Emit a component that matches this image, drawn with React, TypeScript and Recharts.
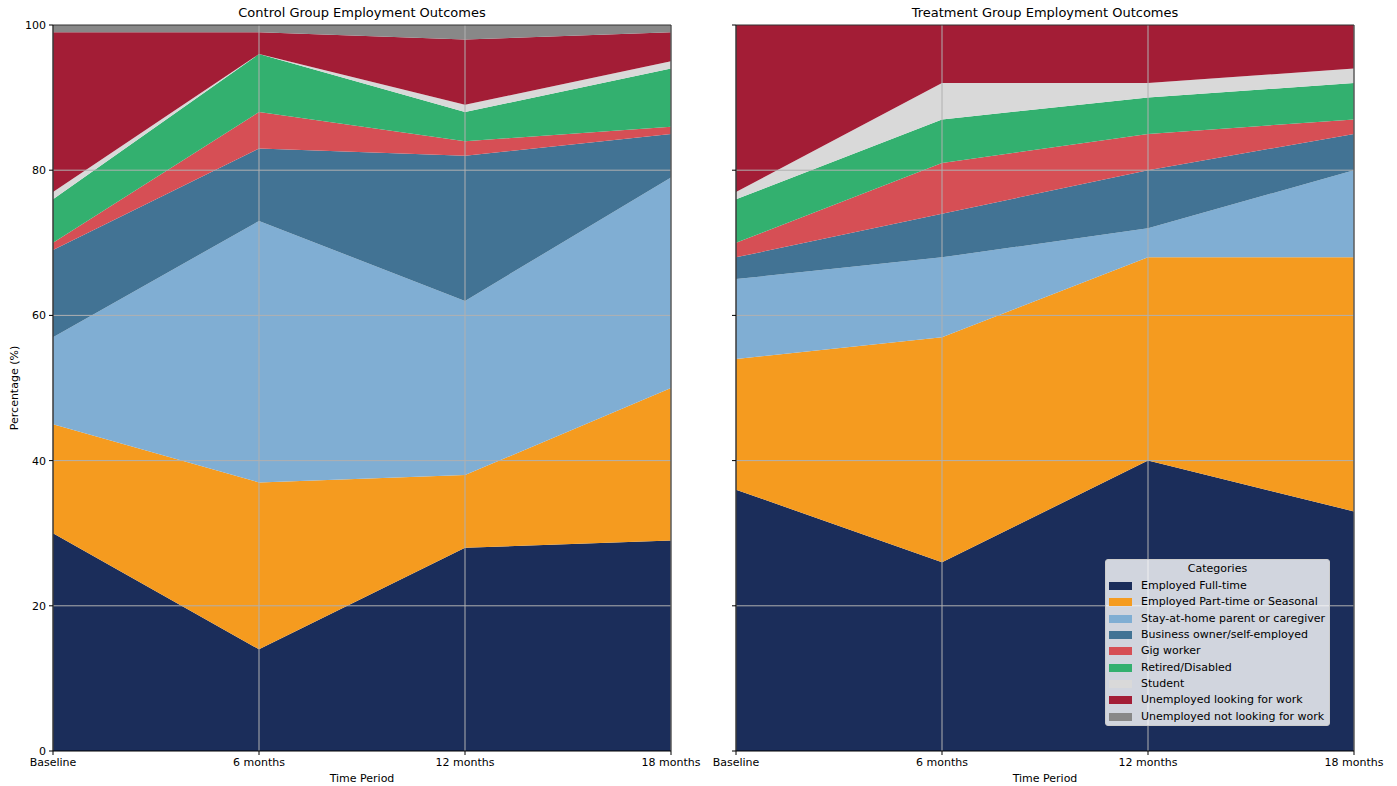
import { AreaChart, Area, XAxis, YAxis, ReferenceLine } from "recharts";

const periods = ["Baseline", "6 months", "12 months", "18 months"];
const yTicks = [0, 20, 40, 60, 80, 100];

// control group, % per period
const controlFullTime = [30, 14, 28, 29];
const controlPartTime = [15, 23, 10, 21];
const controlStayHome = [12, 36, 24, 29];
const controlBusiness = [12, 10, 20, 6];
const controlGig = [1, 5, 2, 1];
const controlRetired = [6, 8, 4, 8];
const controlStudent = [1, 0, 1, 1];
const controlUnempLooking = [22, 3, 9, 4];
const controlUnempNot = [1, 1, 2, 1];

// treatment group, % per period
const treatFullTime = [36, 26, 40, 33];
const treatPartTime = [18, 31, 28, 35];
const treatStayHome = [11, 11, 4, 12];
const treatBusiness = [3, 6, 8, 5];
const treatGig = [2, 7, 5, 2];
const treatRetired = [6, 6, 5, 5];
const treatStudent = [1, 5, 2, 2];
const treatUnempLooking = [23, 8, 8, 6];
const treatUnempNot = [0, 0, 0, 0];

const series = [
  { key: "fullTime", name: "Employed Full-time", color: "#1b2d5a" },
  { key: "partTime", name: "Employed Part-time or Seasonal", color: "#f59b1f" },
  { key: "stayHome", name: "Stay-at-home parent or caregiver", color: "#80aed3" },
  { key: "business", name: "Business owner/self-employed", color: "#427394" },
  { key: "gig", name: "Gig worker", color: "#d64f55" },
  { key: "retired", name: "Retired/Disabled", color: "#33b06f" },
  { key: "student", name: "Student", color: "#d9d9d9" },
  { key: "unempLooking", name: "Unemployed looking for work", color: "#a31d36" },
  { key: "unempNot", name: "Unemployed not looking for work", color: "#888888" },
];

function buildRows(cols: number[][]) {
  return periods.map((p, i) => {
    const row: Record<string, string | number> = { period: p };
    series.forEach((s, j) => {
      row[s.key] = cols[j][i];
    });
    return row;
  });
}

const controlData = buildRows([
  controlFullTime, controlPartTime, controlStayHome, controlBusiness, controlGig,
  controlRetired, controlStudent, controlUnempLooking, controlUnempNot,
]);
const treatData = buildRows([
  treatFullTime, treatPartTime, treatStayHome, treatBusiness, treatGig,
  treatRetired, treatStudent, treatUnempLooking, treatUnempNot,
]);

const font = "'DejaVu Sans', sans-serif";
const tickStyle = { fontSize: 11, fill: "#000", fontFamily: font };

function Panel({ data, showYLabels, width, right }: { data: any[]; showYLabels: boolean; width: number; right: number }) {
  return (
    <AreaChart width={width} height={786} data={data} margin={{ top: 25, right, bottom: 0, left: 13 }}>
      <XAxis
        dataKey="period"
        height={35}
        tick={tickStyle}
        tickSize={4}
        tickMargin={3}
        stroke="#000"
        interval={0}
      />
      <YAxis
        type="number"
        domain={[0, 100]}
        ticks={yTicks}
        width={40}
        tick={tickStyle}
        tickSize={4}
        tickMargin={3}
        stroke="#000"
        tickFormatter={(v) => (showYLabels ? String(v) : "")}
        allowDataOverflow
      />
      {series.map((s) => (
        <Area
          key={s.key}
          type="linear"
          dataKey={s.key}
          stackId="1"
          fill={s.color}
          fillOpacity={1}
          stroke="none"
          isAnimationActive={false}
        />
      ))}
      {periods.map((p) => (
        <ReferenceLine key={p} x={p} stroke="#b0b0b0" strokeWidth={1} />
      ))}
      {[20, 40, 60, 80].map((v) => (
        <ReferenceLine key={v} y={v} stroke="#b0b0b0" strokeWidth={1} />
      ))}
      <ReferenceLine y={100} stroke="#333" strokeWidth={1} />
      <ReferenceLine x="18 months" stroke="#333" strokeWidth={1} />
    </AreaChart>
  );
}

export default function App() {
  return (
    <div style={{ position: "absolute", left: 0, top: 0, width: 1397, height: 786, background: "#fff", fontFamily: font }}>
      <div style={{ position: "absolute", left: 0, top: 0 }}>
        <Panel data={controlData} showYLabels width={710} right={39} />
      </div>
      <div style={{ position: "absolute", left: 683, top: 0 }}>
        <Panel data={treatData} showYLabels={false} width={714} right={43} />
      </div>
      <div style={{ position: "absolute", left: 53, width: 618, top: 5, textAlign: "center", fontSize: 13 }}>
        Control Group Employment Outcomes
      </div>
      <div style={{ position: "absolute", left: 736, width: 618, top: 5, textAlign: "center", fontSize: 13 }}>
        Treatment Group Employment Outcomes
      </div>
      <div style={{ position: "absolute", left: 53, width: 618, top: 772, textAlign: "center", fontSize: 11 }}>
        Time Period
      </div>
      <div style={{ position: "absolute", left: 736, width: 618, top: 772, textAlign: "center", fontSize: 11 }}>
        Time Period
      </div>
      <div
        style={{
          position: "absolute",
          left: 14,
          top: 388,
          fontSize: 11,
          transform: "translate(-50%, -50%) rotate(-90deg)",
          whiteSpace: "nowrap",
        }}
      >
        Percentage (%)
      </div>
      <div
        style={{
          position: "absolute",
          left: 1105,
          top: 559,
          width: 225,
          height: 167,
          background: "rgba(255,255,255,0.8)",
          border: "1px solid #cccccc",
          borderRadius: 3,
          boxSizing: "border-box",
          fontSize: 11,
        }}
      >
        <div style={{ textAlign: "center", marginTop: 2, height: 16, lineHeight: "14px" }}>Categories</div>
        {series.map((s) => (
          <div key={s.key} style={{ display: "flex", alignItems: "center", height: 16.3, lineHeight: "16px" }}>
            <span style={{ display: "inline-block", width: 23, height: 8, background: s.color, marginLeft: 3, marginRight: 9 }} />
            <span style={{ whiteSpace: "nowrap" }}>{s.name}</span>
          </div>
        ))}
      </div>
    </div>
  );
}
